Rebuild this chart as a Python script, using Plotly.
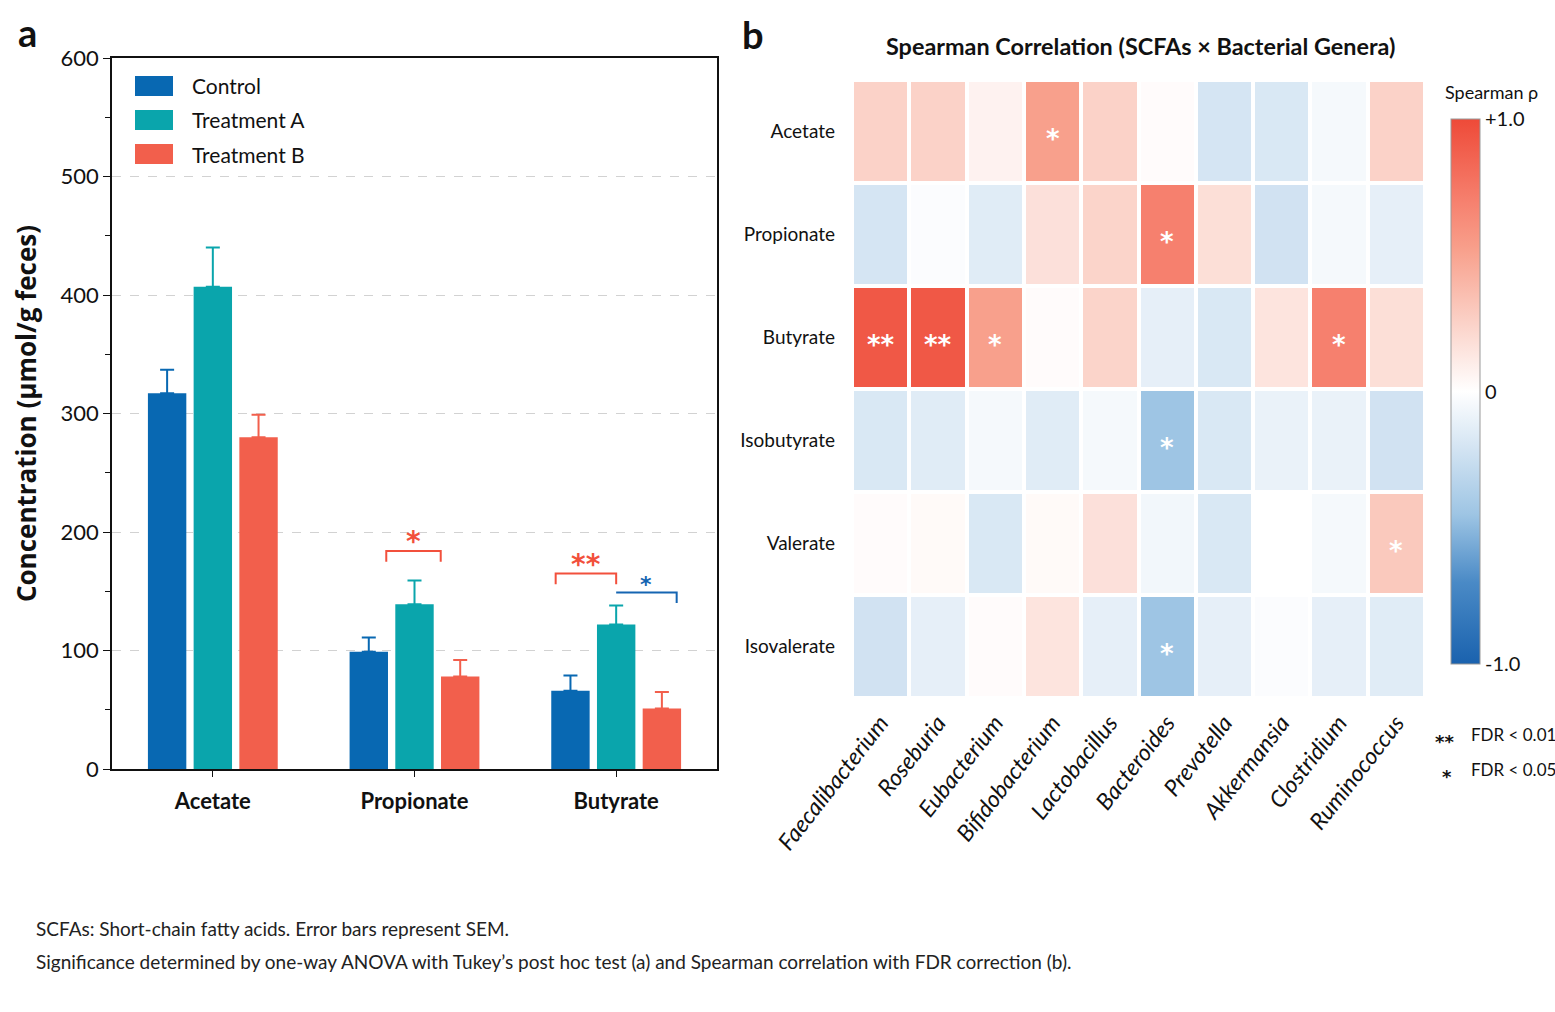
import plotly.graph_objects as go

W, H = 1555, 1012
ML, MR = 0, 100
PW = W - ML - MR
LATO = "Lato, 'Open Sans', sans-serif"
STAR = "'DejaVu Sans', sans-serif"

def px(x):
    return (x - ML) / PW

def py(y):
    return 1 - y / H

# ---------------- Data: panel a ----------------
scfa_bar = ["Acetate", "Propionate", "Butyrate"]
groups = ["Control", "Treatment A", "Treatment B"]
means = {
    "Control": [317, 99, 66],
    "Treatment A": [407, 139, 122],
    "Treatment B": [280, 78, 51],
}
sems = {
    "Control": [20, 12, 13],
    "Treatment A": [33, 20, 16],
    "Treatment B": [19, 14, 14],
}
colors = {"Control": "#0868b2", "Treatment A": "#0aa5ac", "Treatment B": "#f25f4c"}

# ---------------- Data: panel b ----------------
scfas = ["Acetate", "Propionate", "Butyrate", "Isobutyrate", "Valerate", "Isovalerate"]
genera = ["Faecalibacterium", "Roseburia", "Eubacterium", "Bifidobacterium", "Lactobacillus",
          "Bacteroides", "Prevotella", "Akkermansia", "Clostridium", "Ruminococcus"]
rho = [
    [0.25, 0.25, 0.07, 0.52, 0.25, 0.02, -0.20, -0.18, -0.05, 0.25],
    [-0.20, -0.02, -0.15, 0.17, 0.24, 0.70, 0.18, -0.22, -0.05, -0.12],
    [0.92, 0.92, 0.52, 0.02, 0.24, -0.12, -0.18, 0.15, 0.70, 0.18],
    [-0.18, -0.15, -0.05, -0.15, -0.05, -0.45, -0.18, -0.10, -0.10, -0.22],
    [0.02, 0.03, -0.18, 0.03, 0.17, -0.06, -0.18, 0.00, -0.05, 0.30],
    [-0.22, -0.12, 0.02, 0.15, -0.12, -0.45, -0.12, -0.02, -0.12, -0.15],
]
sig = [
    ["", "", "", "*", "", "", "", "", "", ""],
    ["", "", "", "", "", "*", "", "", "", ""],
    ["**", "**", "*", "", "", "", "", "", "*", ""],
    ["", "", "", "", "", "*", "", "", "", ""],
    ["", "", "", "", "", "", "", "", "", "*"],
    ["", "", "", "", "", "*", "", "", "", ""],
]

fig = go.Figure()

for g in groups:
    fig.add_trace(go.Bar(
        x=scfa_bar, y=means[g], name=g, showlegend=False,
        marker=dict(color=colors[g], line=dict(width=0)),
        error_y=dict(type="data", array=sems[g], arrayminus=[0] * len(sems[g]),
                     symmetric=False, color=colors[g], thickness=2, width=7),
        xaxis="x", yaxis="y",
    ))

colorscale = [
    [0.0, "#1a62ae"], [0.15, "#4a8ac6"], [0.275, "#9ec5e4"], [0.4, "#d5e5f3"],
    [0.5, "#ffffff"], [0.625, "#fbd2c8"], [0.76, "#f8a08c"], [0.85, "#f6806e"],
    [1.0, "#ee4a38"],
]
fig.add_trace(go.Heatmap(
    z=rho, x=genera, y=scfas, zmin=-1, zmax=1, colorscale=colorscale,
    xgap=4, ygap=4, xaxis="x2", yaxis="y2", showscale=True,
    colorbar=dict(
        x=px(1451), xanchor="left", y=py(391.5), yanchor="middle",
        len=545 / H, lenmode="fraction", thickness=29, xpad=0, ypad=0,
        outlinewidth=1, outlinecolor="#999999",
        tickvals=[-1, 0, 1], ticktext=["-1.0", "0", "+1.0"], ticks="",
        tickfont=dict(size=20, family=LATO, color="#111"),
    ),
))

shapes = []
annotations = []

# manual legend (panel a)
for k, g in enumerate(groups):
    yc = 86 + 34 * k
    shapes.append(dict(type="rect", xref="paper", yref="paper",
                       x0=px(135), x1=px(173), y0=py(yc - 10), y1=py(yc + 10),
                       fillcolor=colors[g], line=dict(width=0)))
    annotations.append(dict(x=px(190), y=py(yc), xref="paper", yref="paper", text=g,
                            showarrow=False, xanchor="left", yanchor="middle",
                            font=dict(size=21, family=LATO, color="#111")))

# significance brackets panel a
red, blue = "#f2503c", "#1565b2"
def bracket(x0, x1, y, drop_l, drop_r, color):
    path = f"M {x0},{drop_l} L {x0},{y} " if drop_l is not None else f"M {x0},{y} "
    path += f"L {x1},{y} "
    if drop_r is not None:
        path += f"L {x1},{drop_r}"
    shapes.append(dict(type="path", path=path, xref="x", yref="y",
                       line=dict(color=color, width=2)))

bracket(1 - 0.14, 1 + 0.13, 184, 175, 175, red)
bracket(2 - 0.30, 2.0, 165, 156, 156, red)
bracket(2.0, 2 + 0.30, 149, None, 140, blue)
annotations += [
    dict(x=1 - 0.005, y=199, text="<b>*</b>", xref="x", yref="y", showarrow=False, yshift=-8,
         font=dict(size=28, color=red, family=STAR), yanchor="middle"),
    dict(x=2 - 0.15, y=179, text="<b>**</b>", xref="x", yref="y", showarrow=False, yshift=-8,
         font=dict(size=28, color=red, family=STAR), yanchor="middle"),
    dict(x=2 + 0.15, y=161, text="<b>*</b>", xref="x", yref="y", showarrow=False, yshift=-6,
         font=dict(size=22, color=blue, family=STAR), yanchor="middle"),
]

# heatmap stars
for i, s in enumerate(scfas):
    for j, gname in enumerate(genera):
        if sig[i][j]:
            annotations.append(dict(x=gname, y=s, xref="x2", yref="y2", text="<b>" + sig[i][j] + "</b>",
                                    showarrow=False, yshift=-7,
                                    font=dict(size=26, color="white", family=STAR)))

# panel labels, titles, side legend, footnotes
annotations += [
    dict(x=px(16), y=py(32), xref="paper", yref="paper", text="<b>a</b>", showarrow=False,
         xanchor="left", yanchor="middle", font=dict(size=38, family=LATO, color="#111")),
    dict(x=px(740), y=py(34), xref="paper", yref="paper", text="<b>b</b>", showarrow=False,
         xanchor="left", yanchor="middle", font=dict(size=38, family=LATO, color="#111")),
    dict(x=px(1140), y=py(46), xref="paper", yref="paper",
         text="<b>Spearman Correlation (SCFAs × Bacterial Genera)</b>", showarrow=False,
         xanchor="center", yanchor="middle", font=dict(size=23.4, family=LATO, color="#111")),
    dict(x=px(1443), y=py(92), xref="paper", yref="paper", text="Spearman ρ",
         showarrow=False, xanchor="left", yanchor="middle",
         font=dict(size=18, family=LATO, color="#111")),
    dict(x=px(1433), y=py(741), xref="paper", yref="paper", text="<b>**</b>",
         showarrow=False, xanchor="left", yanchor="middle", font=dict(size=18, family=STAR, color="#111")),
    dict(x=px(1469), y=py(734), xref="paper", yref="paper", text="FDR < 0.01",
         showarrow=False, xanchor="left", yanchor="middle", font=dict(size=17, family=LATO, color="#111")),
    dict(x=px(1440), y=py(776), xref="paper", yref="paper", text="<b>*</b>",
         showarrow=False, xanchor="left", yanchor="middle", font=dict(size=18, family=STAR, color="#111")),
    dict(x=px(1469), y=py(769), xref="paper", yref="paper", text="FDR < 0.05",
         showarrow=False, xanchor="left", yanchor="middle", font=dict(size=17, family=LATO, color="#111")),
    dict(x=px(34), y=py(928), xref="paper", yref="paper",
         text="SCFAs: Short-chain fatty acids. Error bars represent SEM.",
         showarrow=False, xanchor="left", yanchor="middle", font=dict(size=19, family=LATO, color="#222")),
    dict(x=px(34), y=py(961), xref="paper", yref="paper",
         text="Significance determined by one-way ANOVA with Tukey’s post hoc test (a) and Spearman correlation with FDR correction (b).",
         showarrow=False, xanchor="left", yanchor="middle", font=dict(size=19, family=LATO, color="#222")),
]

fig.update_layout(
    width=W, height=H, margin=dict(l=ML, r=MR, t=0, b=0, autoexpand=False),
    paper_bgcolor="white", plot_bgcolor="white",
    font=dict(family=LATO, color="#111"),
    barmode="group", bargap=0.32, bargroupgap=0.16,
    showlegend=False,
    xaxis=dict(domain=[px(112), px(717)], anchor="y", showline=True, linecolor="#111",
               linewidth=1.5, mirror=True, ticks="outside", ticklen=6, tickcolor="#111",
               tickfont=dict(size=22, family=LATO, color="#111"), showgrid=False,
               tickprefix="<b>", ticksuffix="</b>", ticklabelstandoff=6, automargin=False),
    yaxis=dict(domain=[py(769), py(58)], anchor="x", range=[0, 600],
               showline=True, linecolor="#111", linewidth=1.5, mirror=True,
               ticks="outside", ticklen=7, tickcolor="#111", dtick=100,
               minor=dict(ticks="outside", dtick=50, ticklen=5, tickcolor="#111", showgrid=False),
               showgrid=True, gridcolor="#d2d2d2", griddash="dash", gridwidth=1,
               zeroline=False, automargin=False,
               tickfont=dict(size=22, family=LATO, color="#111"),
               title=dict(text="<b>Concentration (μmol/g feces)</b>", standoff=16,
                          font=dict(size=26, family="'Open Sans', Lato, sans-serif", color="#111"))),
    xaxis2=dict(domain=[px(852), px(1425)], anchor="y2", showline=False, showgrid=False,
                zeroline=False, ticks="", tickangle=-52, automargin=False, ticklabelstandoff=6,
                tickfont=dict(size=23, family=LATO, color="#111", style="italic")),
    yaxis2=dict(domain=[py(698), py(80)], anchor="x2", autorange="reversed",
                showline=False, showgrid=False, zeroline=False, ticks="", automargin=False,
                ticklabelstandoff=16,
                tickfont=dict(size=19, family=LATO, color="#111")),
    shapes=shapes, annotations=annotations,
)

fig.write_html("out.html")
